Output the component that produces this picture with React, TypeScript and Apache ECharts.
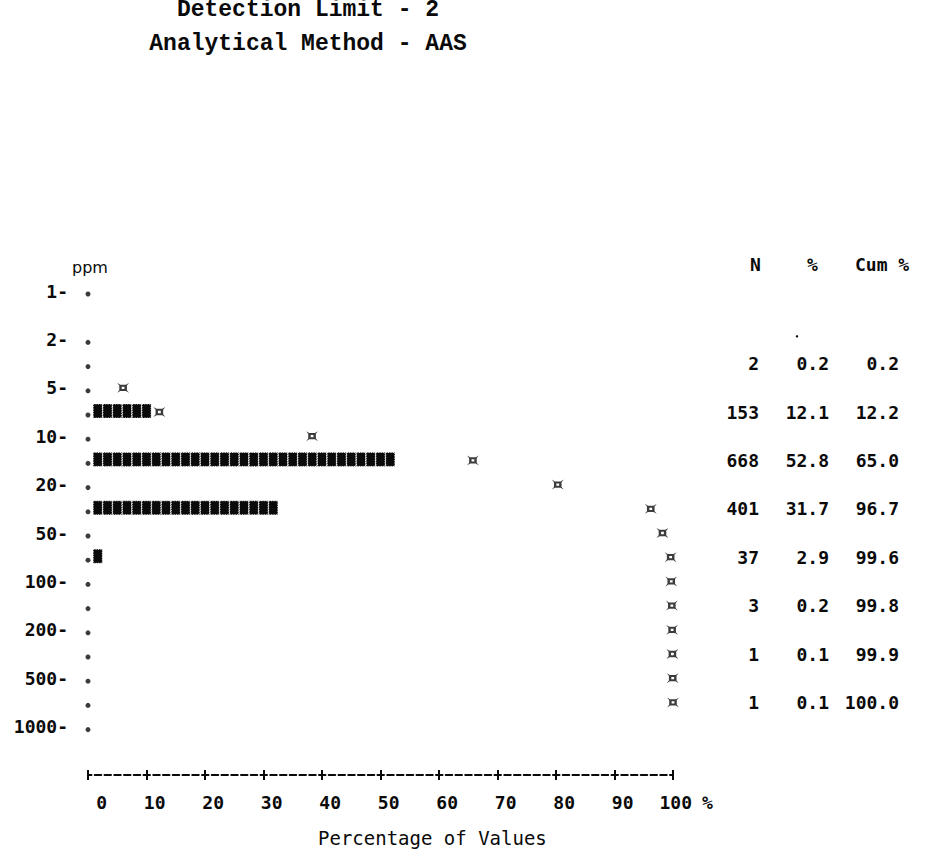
import React, { useEffect, useRef } from 'react';
import * as echarts from 'echarts';

// ---------- data ----------
const TITLE_LINES = ['Detection Limit - 2', 'Analytical Method - AAS'];
const Y_HEADER = 'ppm';
// one entry per printed row (class boundaries carry a label, bins between them are blank)
const ROW_LABELS = ['1-', '', '2-', '', '5-', '', '10-', '', '20-', '', '50-', '', '100-', '', '200-', '', '500-', '', '1000-'];
const DOT_ROWS = [0, 2, 3, 4, 5, 6, 7, 8, 9, 10, 11, 12, 13, 14, 15, 16, 17, 18];
const BAR_ROWS = [5, 7, 9, 11];
const BAR_PCT = [12.1, 52.8, 31.7, 2.9];
const CUM_ROWS = [4, 5, 6, 7, 8, 9, 10, 11, 12, 13, 14, 15, 16, 17];
const CUM_PCT = [6.0, 12.2, 38.3, 65.8, 80.3, 96.2, 98.2, 99.6, 99.7, 99.8, 99.85, 99.9, 99.95, 100.0];
const TABLE_HEADERS = ['N', '%', 'Cum %'];
const TABLE_ROWS = [3, 5, 7, 9, 11, 13, 15, 17];
const TABLE_N = ['2', '153', '668', '401', '37', '3', '1', '1'];
const TABLE_PCT = ['0.2', '12.1', '52.8', '31.7', '2.9', '0.2', '0.1', '0.1'];
const TABLE_CUM = ['0.2', '12.2', '65.0', '96.7', '99.6', '99.8', '99.9', '100.0'];
const X_MIN = 0;
const X_MAX = 100;
const X_STEP = 10;
const X_UNIT = '%';
const X_NAME = 'Percentage of Values';
const CHARS_PER_100 = 60; // printer columns for 100 %

// ---------- styles ----------
const MONO = '"DejaVu Sans Mono", monospace';
const INK = '#0a0a0a';
const CURRENCY = 'path://M0,0L3.2,2.2L8.8,2.2L12,0L9.8,3.2L9.8,8.8L12,12L8.8,9.8L3.2,9.8L0,12L2.2,8.8L2.2,3.2Z M4.6,4.6L4.6,7.4L7.4,7.4L7.4,4.6Z';

export default function App() {
  const ref = useRef<HTMLDivElement>(null);

  useEffect(() => {
    if (!ref.current) return;
    const chart = echarts.init(ref.current, null, { renderer: 'svg' });

    const option: any = {
      animation: false,
      backgroundColor: '#ffffff',
      grid: { left: 88, right: 270, top: 266.8, bottom: 75, containLabel: false, outerBoundsMode: 'none' },
      xAxis: [
        {
          type: 'value', min: X_MIN, max: X_MAX, interval: X_STEP, position: 'bottom',
          axisLine: { show: true, onZero: false, lineStyle: { color: INK, width: 2, type: [6.5, 3.25], dashOffset: 3.25 } },
          axisTick: { show: true, length: 5, lineStyle: { color: INK, width: 2 } },
          splitLine: { show: false },
          axisLabel: {
            margin: 18,
            formatter: (v: number) => `{t|${v}}`,
            rich: { t: { width: 38, align: 'right', fontFamily: MONO, fontWeight: 'bold', fontSize: 18, color: INK } },
          },
        },
        {
          type: 'value', min: X_MIN, max: X_MAX, interval: X_STEP, position: 'bottom',
          axisLine: { show: false, onZero: false },
          axisTick: { show: true, inside: true, length: 5, lineStyle: { color: INK, width: 2 } },
          axisLabel: { show: false },
          splitLine: { show: false },
        },
      ],
      yAxis: {
        type: 'value', inverse: true, min: -1, max: 20, interval: 1,
        axisLine: { show: false }, axisTick: { show: false }, splitLine: { show: false },
        axisLabel: {
          margin: 20,
          formatter: (v: number) => (Number.isInteger(v) && ROW_LABELS[v] ? ROW_LABELS[v] : ''),
          fontFamily: MONO, fontWeight: 'bold', fontSize: 18, color: INK,
        },
      },
      series: [
        {
          name: 'axis dots', type: 'scatter', clip: false, silent: true,
          data: DOT_ROWS.map((r) => [0, r]),
          symbol: 'circle', symbolSize: 5, symbolOffset: [0, 3],
          itemStyle: { color: INK },
        },
        {
          name: 'percent', type: 'custom', clip: false, silent: true,
          data: BAR_ROWS.map((r, i) => [BAR_PCT[i], r]),
          encode: { x: 0, y: 1 },
          renderItem: (params: any, api: any) => {
            const pct = api.value(0);
            const row = api.value(1);
            const origin = api.coord([0, row]);
            const end = api.coord([pct, row]);
            const pitch = api.coord([X_MAX / CHARS_PER_100, row])[0] - origin[0];
            const n = Math.floor((end[0] - origin[0]) / pitch + 1e-6);
            const ci = CUM_ROWS.indexOf(row);
            const skip = ci >= 0 ? Math.round((CUM_PCT[ci] * CHARS_PER_100) / X_MAX) : -1;
            const children: any[] = [];
            const w = pitch - 0.6;
            const h = 14;
            for (let k = 1; k <= n; k++) {
              if (k === skip) continue;
              const cx = origin[0] + k * pitch;
              children.push({
                type: 'rect',
                shape: { x: cx - w / 2, y: origin[1] - h / 2 - 1, width: w, height: h },
                style: { fill: INK, stroke: '#ffffff', lineWidth: 1, lineDash: [1, 1.4] },
              });
            }
            return { type: 'group', children };
          },
        },
        {
          name: 'cumulative', type: 'scatter', clip: false, silent: true,
          data: CUM_ROWS.map((r, i) => [CUM_PCT[i], r]),
          symbol: CURRENCY, symbolSize: [12, 10],
          itemStyle: { color: INK },
        },
      ],
    };

    chart.setOption(option);

    const yPix = (r: number) => chart.convertToPixel({ yAxisIndex: 0 }, r) as number;
    const xPix = (v: number) => chart.convertToPixel({ xAxisIndex: 0 }, v) as number;
    const txt = (text: string, x: number, y: number, font: string, align = 'left', extra: any = {}) => ({
      type: 'text', x, y, silent: true,
      style: { text, fill: INK, font, align, verticalAlign: 'middle', ...extra },
    });

    const numFont = `bold 18px ${MONO}`;
    const headY = yPix(-1);
    const colRight = [759, 829, 899];
    const headLeft = [750, 807, 855];
    const g: any[] = [];

    g.push(txt(TITLE_LINES[0], 308, 10, 'bold 23px "Liberation Mono", monospace', 'center'));
    g.push(txt(TITLE_LINES[1], 308, 44, 'bold 23px "Liberation Mono", monospace', 'center'));
    g.push(txt(Y_HEADER, 72, headY + 1, '16px "DejaVu Sans", sans-serif'));
    TABLE_HEADERS.forEach((h, i) => g.push(txt(h, headLeft[i], headY - 2, numFont)));
    TABLE_ROWS.forEach((r, i) => {
      const y = yPix(r);
      g.push(txt(TABLE_N[i], colRight[0], y, numFont, 'right'));
      g.push(txt(TABLE_PCT[i], colRight[1], y, numFont, 'right'));
      g.push(txt(TABLE_CUM[i], colRight[2], y, numFont, 'right'));
    });
    g.push({ type: 'circle', silent: true, shape: { cx: 797, cy: yPix(2) - 3, r: 1.2 }, style: { fill: INK } });
    g.push(txt(X_UNIT, xPix(X_MAX) + 29, 802, numFont));
    g.push(txt(X_NAME, 318, 838, `19px ${MONO}`));

    chart.setOption({ graphic: g });

    return () => chart.dispose();
  }, []);

  return (
    <div
      ref={ref}
      style={{ position: 'fixed', left: 0, top: 0, width: 943, height: 850, background: '#fff' }}
    />
  );
}
